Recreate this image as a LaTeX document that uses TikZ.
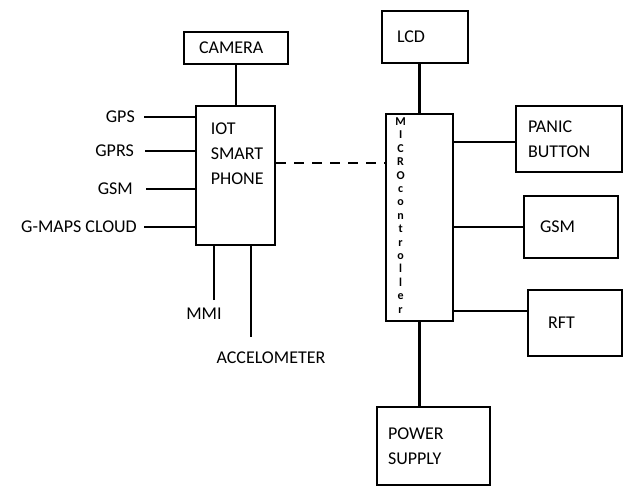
\documentclass[tikz,border=0pt]{standalone}
\usepackage{fontspec}
\setmainfont{Carlito}
\usetikzlibrary{positioning,calc}

\begin{document}
\begin{tikzpicture}[
  x=1pt, y=-1pt,
  font=\fontsize{18}{25}\selectfont,
  box/.style={draw=black, line width=2.8pt, align=left, inner xsep=15pt,
              inner ysep=0pt},
  txt/.style={inner sep=0pt},
  wire/.style={line width=2.5pt, draw=black},
  link/.style={line width=2.6pt, draw=black, dash pattern=on 10pt off 8pt},
]
\useasboundingbox (0,0) rectangle (625,486);

% ---------------- smart phone side (left) ----------------
\node[box, text width=74pt, minimum height=32pt] (cam) at (236,48) {CAMERA};
\node[box, minimum width=79pt, minimum height=139pt] (phone) at (235.5,175.5) {};
\node[txt, anchor=north west, align=left] (phonetxt)
  at ([xshift=16pt,yshift=-18pt]phone.north west) {IOT\\SMART\\PHONE};

\node[txt, anchor=east] (gps)   at (135,117) {GPS};
\node[txt, anchor=east] (gprs)  at (134,151) {GPRS};
\node[txt, anchor=east] (gsmin) at (133,189) {GSM};
\node[txt, anchor=east] (maps)  at (137,227) {G-MAPS CLOUD};

\node[txt] (mmi) at (204,314) {MMI};
\node[txt] (acc) at (271,358) {ACCELOMETER};

% ---------------- microcontroller (middle) ----------------
\node[box, text width=56pt, minimum height=52pt] (lcd) at (425,37) {LCD};
\node[box, minimum width=67pt, minimum height=207pt] (mcu) at (419.5,217.5) {};
\node[txt, anchor=north, align=center,
      font=\fontsize{12}{13.4}\selectfont\bfseries] (mcutxt)
  at ([xshift=16pt,yshift=-5pt]mcu.north west)
  {M\\I\\C\\R\\O\\c\\o\\n\\t\\r\\o\\l\\l\\e\\r};
\node[box, inner xsep=11pt, text width=91pt, minimum height=78pt] (power)
  at (433.5,446) {POWER\\SUPPLY};

% ---------------- peripherals (right) ----------------
\node[box, inner xsep=12pt, text width=82pt, minimum height=66pt] (panic)
  at (569,139) {PANIC\\BUTTON};
\node[box, inner xsep=16pt, text width=62pt, minimum height=62pt] (gsm)
  at (571,227) {GSM};
\node[box, inner xsep=20pt, text width=54pt, minimum height=66pt] (rft)
  at (575,323) {RFT};

% ---------------- connections ----------------
\draw[wire] (cam.south) -- (cam.south |- phone.north);
\draw[wire, shorten <=9pt] (gps.east)   -- (gps.east -| phone.west);
\draw[wire, shorten <=11pt] (gprs.east)  -- (gprs.east -| phone.west);
\draw[wire, shorten <=13pt] (gsmin.east) -- (gsmin.east -| phone.west);
\draw[wire, shorten <=7pt] (maps.east)  -- (maps.east -| phone.west);
\draw[wire, shorten <=8pt] ([xshift=10pt]mmi.north)
  -- ([xshift=10pt]mmi.north |- phone.south);
\draw[wire, shorten <=15pt] ([xshift=-20pt]acc.north)
  -- ([xshift=-20pt]acc.north |- phone.south);

\draw[link] ([yshift=12.5pt]phone.east) -- ([yshift=12.5pt]phone.east -| mcu.west);

\draw[wire] (mcu.north) -- (mcu.north |- lcd.south);
\draw[wire] (mcu.south) -- (mcu.south |- power.north);
\draw[wire] ([yshift=-3pt]panic.west -| mcu.east) -- ([yshift=-3pt]panic.west);
\draw[wire] (gsm.west -| mcu.east) -- (gsm.west);
\draw[wire] ([yshift=12pt]rft.west -| mcu.east) -- ([yshift=12pt]rft.west);

\end{tikzpicture}
\end{document}
